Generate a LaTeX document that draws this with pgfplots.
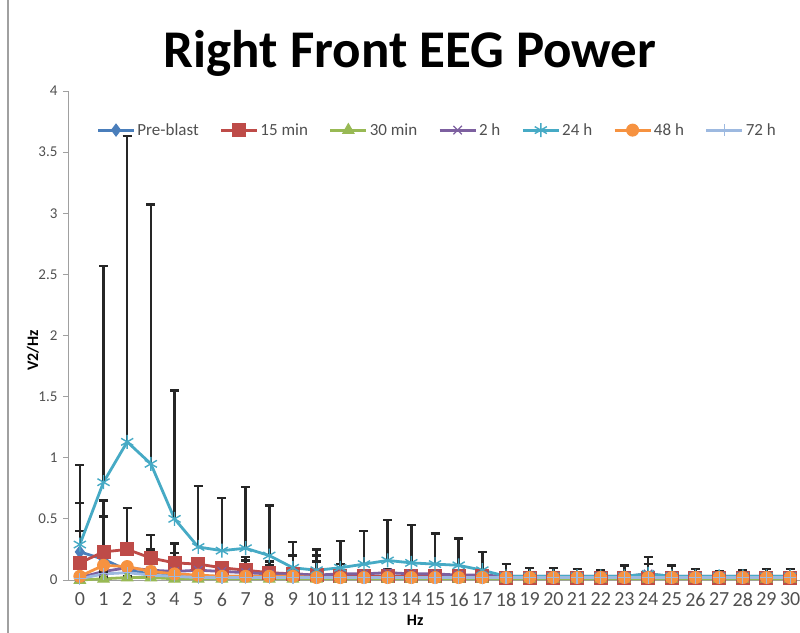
\documentclass[border=0pt]{standalone}
\usepackage{pgfplots}
\usepackage{pgfplotstable}
\usepackage{fontspec}
\setmainfont{Carlito}
\pgfplotsset{compat=1.18}
\definecolor{cpre}{HTML}{4A7EBB}
\definecolor{cm15}{HTML}{BE4B48}
\definecolor{cm30}{HTML}{98B954}
\definecolor{ch2}{HTML}{7D60A0}
\definecolor{ch24}{HTML}{46AAC5}
\definecolor{ch48}{HTML}{F69240}
\definecolor{ch72}{HTML}{9DB9E0}
\definecolor{axgray}{HTML}{A0A0A0}
\definecolor{txtgray}{HTML}{505050}
\pgfplotstableread{
x pre epre m15 em15 m30 em30 h2 eh2 h24 eh24 h48 eh48 h72 eh72
0  0.23 0.40 0.14 0.26 0.00 0.01 0.02 0.02 0.29 0.65 0.03 0.02 0.01 0.01
1  0.17 0.35 0.23 0.42 0.01 0.01 0.07 0.04 0.80 1.77 0.12 0.03 0.05 0.02
2  0.08 0.05 0.25 0.34 0.02 0.01 0.10 0.03 1.13 2.50 0.11 0.03 0.06 0.02
3  0.05 0.03 0.18 0.19 0.02 0.01 0.08 0.17 0.95 2.12 0.07 0.02 0.04 0.01
4  0.04 0.02 0.14 0.16 0.01 0.01 0.07 0.15 0.50 1.05 0.05 0.02 0.03 0.01
5  0.03 0.02 0.13 0.05 0.01 0.01 0.08 0.03 0.27 0.50 0.04 0.02 0.02 0.01
6  0.03 0.02 0.10 0.04 0.01 0.01 0.07 0.03 0.24 0.43 0.03 0.02 0.02 0.01
7  0.03 0.02 0.08 0.11 0.01 0.01 0.06 0.10 0.26 0.50 0.03 0.02 0.02 0.01
8  0.03 0.02 0.06 0.09 0.01 0.01 0.05 0.07 0.20 0.41 0.03 0.02 0.02 0.01
9  0.03 0.02 0.05 0.04 0.01 0.01 0.05 0.15 0.10 0.21 0.03 0.02 0.02 0.01
10 0.03 0.02 0.04 0.11 0.01 0.01 0.04 0.16 0.08 0.17 0.02 0.02 0.02 0.01
11 0.03 0.02 0.03 0.10 0.01 0.01 0.05 0.03 0.10 0.22 0.02 0.02 0.02 0.01
12 0.03 0.02 0.03 0.02 0.01 0.01 0.05 0.03 0.13 0.27 0.02 0.02 0.02 0.01
13 0.03 0.02 0.03 0.02 0.01 0.01 0.06 0.03 0.16 0.33 0.02 0.02 0.02 0.01
14 0.03 0.02 0.03 0.02 0.01 0.01 0.05 0.03 0.14 0.31 0.02 0.02 0.02 0.01
15 0.03 0.02 0.03 0.02 0.01 0.01 0.05 0.03 0.13 0.25 0.02 0.02 0.02 0.01
16 0.03 0.02 0.03 0.02 0.01 0.01 0.04 0.03 0.12 0.22 0.02 0.02 0.02 0.01
17 0.02 0.02 0.03 0.02 0.01 0.01 0.04 0.03 0.08 0.15 0.02 0.02 0.02 0.01
18 0.02 0.02 0.02 0.02 0.01 0.01 0.03 0.03 0.03 0.10 0.02 0.02 0.02 0.01
19 0.02 0.02 0.02 0.02 0.01 0.01 0.03 0.03 0.03 0.07 0.02 0.02 0.02 0.01
20 0.02 0.02 0.02 0.02 0.01 0.01 0.03 0.03 0.03 0.07 0.02 0.02 0.02 0.01
21 0.02 0.02 0.02 0.02 0.01 0.01 0.03 0.03 0.03 0.06 0.02 0.02 0.02 0.01
22 0.02 0.02 0.02 0.02 0.01 0.01 0.03 0.03 0.03 0.05 0.02 0.02 0.02 0.01
23 0.02 0.02 0.02 0.02 0.01 0.01 0.03 0.03 0.03 0.09 0.02 0.02 0.02 0.01
24 0.02 0.02 0.02 0.02 0.01 0.01 0.05 0.08 0.05 0.14 0.02 0.02 0.02 0.01
25 0.02 0.02 0.02 0.02 0.01 0.01 0.03 0.03 0.03 0.09 0.02 0.02 0.02 0.01
26 0.02 0.02 0.02 0.02 0.01 0.01 0.03 0.03 0.03 0.06 0.02 0.02 0.02 0.01
27 0.02 0.02 0.02 0.02 0.01 0.01 0.03 0.03 0.03 0.04 0.02 0.02 0.02 0.01
28 0.02 0.02 0.02 0.02 0.01 0.01 0.03 0.03 0.03 0.05 0.02 0.02 0.02 0.01
29 0.02 0.02 0.02 0.02 0.01 0.01 0.03 0.03 0.03 0.06 0.02 0.02 0.02 0.01
30 0.02 0.02 0.02 0.02 0.01 0.01 0.03 0.03 0.03 0.06 0.02 0.02 0.02 0.01
}\data
\begin{document}
\begin{tikzpicture}
\useasboundingbox (0,0) rectangle (800bp,633bp);
\draw[axgray, line width=1.2bp] (8bp,0) -- (8bp,633bp);
\begin{axis}[
  at={(68bp,53bp)}, anchor=south west,
  scale only axis, width=734bp, height=489bp,
  xmin=-0.5, xmax=30.5, ymin=0, ymax=4,
  axis x line=bottom, axis y line=left,
  axis line style={axgray, line width=1bp, -},
  xtick={0,...,30},
  ytick={0,0.5,...,4},
  yticklabels={0,0.5,1,1.5,2,2.5,3,3.5,4},
  tick align=outside,
  major tick length=5bp,
  xtick style={draw=none},
  ytick style={axgray, line width=0.8bp},
  extra x ticks={-0.5,0.5,...,30.5},
  extra x tick labels={},
  extra x tick style={tick style={draw=axgray, line width=0.8bp}, major tick length=5bp},
  /pgf/number format/assume math mode=true,
  xticklabel style={font=\fontsize{20bp}{24bp}\selectfont, text=txtgray, yshift=-4bp},
  yticklabel style={font=\fontsize{15bp}{18bp}\selectfont, text=txtgray, xshift=-2bp},
  title={\textbf{Right Front EEG Power}},
  title style={font=\fontsize{53bp}{62bp}\selectfont, at={(0.466,1)}, anchor=center, yshift=32bp},
  xlabel={\textbf{Hz}},
  xlabel style={font=\fontsize{16bp}{19bp}\selectfont, at={(axis description cs:0.473,-0.082)}, anchor=center},
  ylabel={\textbf{V2/Hz}},
  ylabel style={font=\fontsize{16bp}{19bp}\selectfont, at={(axis description cs:-0.048,0.47)}, anchor=center},
  clip=false,
  legend columns=7,
  legend style={draw=none, fill=none, at={(0.503,0.92)}, anchor=center,
    font=\fontsize{17bp}{20bp}\selectfont, text=txtgray,
    /tikz/every even column/.append style={column sep=19bp}},
  legend image code/.code={
    \draw[#1, mark repeat=2, mark phase=2] plot coordinates {(0bp,0bp) (18bp,0bp) (36bp,0bp)};
  },
  every axis plot/.append style={line width=2.8bp},
  error bars/y dir=plus,
  error bars/y explicit,
  error bars/error bar style={black!85, line width=2.5bp},
  error bars/error mark options={black!85, line width=2.5bp, rotate=90, mark size=4.5bp},
]
\addplot[color=cpre, mark=diamond*, mark size=6bp, mark options={fill=cpre, line width=1bp}]
  table[x=x, y=pre, y error=epre] {\data};
\addlegendentry{Pre-blast}
\addplot[color=cm15, mark=square*, mark size=6.5bp, mark options={fill=cm15, line width=1bp}]
  table[x=x, y=m15, y error=em15] {\data};
\addlegendentry{15 min}
\addplot[color=cm30, mark=triangle*, mark size=6.5bp, mark options={fill=cm30, line width=1bp}]
  table[x=x, y=m30, y error=em30] {\data};
\addlegendentry{30 min}
\addplot[color=ch2, mark=x, mark size=6bp, mark options={line width=1.2bp}]
  table[x=x, y=h2, y error=eh2] {\data};
\addlegendentry{2 h}
\addplot[color=ch24, mark=asterisk, mark size=7bp, mark options={line width=1.4bp}]
  table[x=x, y=h24, y error=eh24] {\data};
\addlegendentry{24 h}
\addplot[color=ch48, mark=*, mark size=6bp, mark options={fill=ch48, line width=1bp}]
  table[x=x, y=h48, y error=eh48] {\data};
\addlegendentry{48 h}
\addplot[color=ch72, mark=+, mark size=6bp, mark options={line width=1.2bp}]
  table[x=x, y=h72, y error=eh72] {\data};
\addlegendentry{72 h}
\end{axis}
\end{tikzpicture}
\end{document}
